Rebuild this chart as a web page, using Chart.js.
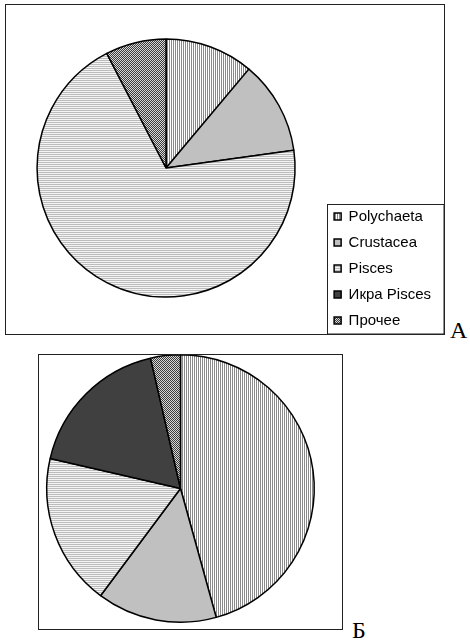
<!DOCTYPE html>
<html>
<head>
<meta charset="utf-8">
<script src="https://cdn.jsdelivr.net/npm/chart.js@4/dist/chart.umd.min.js"></script>
<style>
  html, body { margin: 0; padding: 0; background: #fff; }
  body { width: 470px; height: 641px; position: relative; overflow: hidden; }
  canvas { position: absolute; }
  #cA { left: 5px; top: 4px; }
  #cB { left: 38px; top: 354px; }
  .lbl { position: absolute; font-family: 'Liberation Serif', 'Times New Roman', serif; font-size: 24px; line-height: 24px; color: #000; }
  #lA { left: 450px; top: 318px; }
  #lB { left: 352px; top: 618px; }
</style>
</head>
<body>
<canvas id="cA" width="440" height="331"></canvas>
<canvas id="cB" width="305" height="276"></canvas>
<div class="lbl" id="lA"></div>
<div class="lbl" id="lB"></div>
<script>
// ---- data ----
const categories = ['Polychaeta', 'Crustacea', 'Pisces', 'Икра Pisces', 'Прочее'];
const valuesA = [11.1, 11.7, 69.6, 0, 7.6];
const valuesB = [45.7, 14.5, 18.4, 17.8, 3.6];
const panelLabels = ['А', 'Б'];

document.getElementById('lA').textContent = panelLabels[0];
document.getElementById('lB').textContent = panelLabels[1];

// ---- fill patterns ----
function makePattern(w, h, painter) {
  const c = document.createElement('canvas');
  c.width = w; c.height = h;
  const g = c.getContext('2d');
  painter(g);
  return g.createPattern(c, 'repeat');
}
const patVert = makePattern(2, 1, g => { g.fillStyle = '#fff'; g.fillRect(0, 0, 2, 1); g.fillStyle = '#8a8a8a'; g.fillRect(0, 0, 1, 1); });
const patHoriz = makePattern(1, 2, g => { g.fillStyle = '#f4f4f4'; g.fillRect(0, 0, 1, 2); g.fillStyle = '#bcbcbc'; g.fillRect(0, 0, 1, 1); });
const patCheck = makePattern(2, 2, g => { g.fillStyle = '#d8d8d8'; g.fillRect(0, 0, 2, 2); g.fillStyle = '#3c3c3c'; g.fillRect(0, 0, 1, 1); g.fillRect(1, 1, 1, 1); });
const fills = [patVert, '#c0c0c0', patHoriz, '#404040', patCheck];

Chart.defaults.color = '#000';
Chart.defaults.font.family = "'Liberation Sans', Arial, sans-serif";

const framePlugin = {
  id: 'frame',
  afterDraw(chart) {
    const c = chart.ctx;
    c.save();
    c.strokeStyle = '#222';
    c.lineWidth = 1;
    c.strokeRect(0.5, 0.5, chart.width - 1, chart.height - 1);
    c.restore();
  }
};

const legendShift = {
  id: 'legendShift',
  afterLayout(chart) {
    const lg = chart.legend;
    lg.top += 7; lg.bottom += 7;
    lg.left -= 4; lg.right -= 4;
  }
};

const legendBox = {
  id: 'legendBox',
  afterDraw(chart) {
    const lg = chart.legend;
    const pad = lg.options.labels.padding;
    const colH = lg.columnSizes[0].height;
    const firstTop = lg.bottom - colH;
    const left = Math.round(lg.left + pad - 7) + 0.5;
    const top = Math.round(firstTop - 5) + 0.5;
    const c = chart.ctx;
    c.save();
    c.strokeStyle = '#222';
    c.lineWidth = 1;
    c.strokeRect(left, top, chart.width - 1 - left, chart.height - 1 - top);
    c.restore();
  }
};

function dataset(values, radius) {
  const ds = {
    data: values,
    backgroundColor: fills,
    borderColor: '#000',
    borderWidth: 1.5
  };
  if (radius) ds.radius = radius;
  return ds;
}

new Chart(document.getElementById('cA'), {
  type: 'pie',
  data: { labels: categories, datasets: [dataset(valuesA, 129)] },
  options: {
    responsive: false,
    animation: false,
    layout: { padding: { bottom: 3 } },
    plugins: {
      tooltip: { enabled: false },
      legend: {
        position: 'right',
        align: 'end',
        labels: {
          boxWidth: 7,
          boxHeight: 7,
          padding: 11,
          color: '#000',
          font: { size: 15, family: "'Liberation Sans', Arial, sans-serif" }
        }
      }
    }
  },
  plugins: [legendShift, framePlugin, legendBox]
});

new Chart(document.getElementById('cB'), {
  type: 'pie',
  data: { labels: categories, datasets: [dataset(valuesB)] },
  options: {
    responsive: false,
    animation: false,
    layout: { padding: { left: 8, right: 28, top: 0, bottom: 7 } },
    plugins: {
      tooltip: { enabled: false },
      legend: { display: false }
    }
  },
  plugins: [framePlugin]
});
</script>
</body>
</html>
